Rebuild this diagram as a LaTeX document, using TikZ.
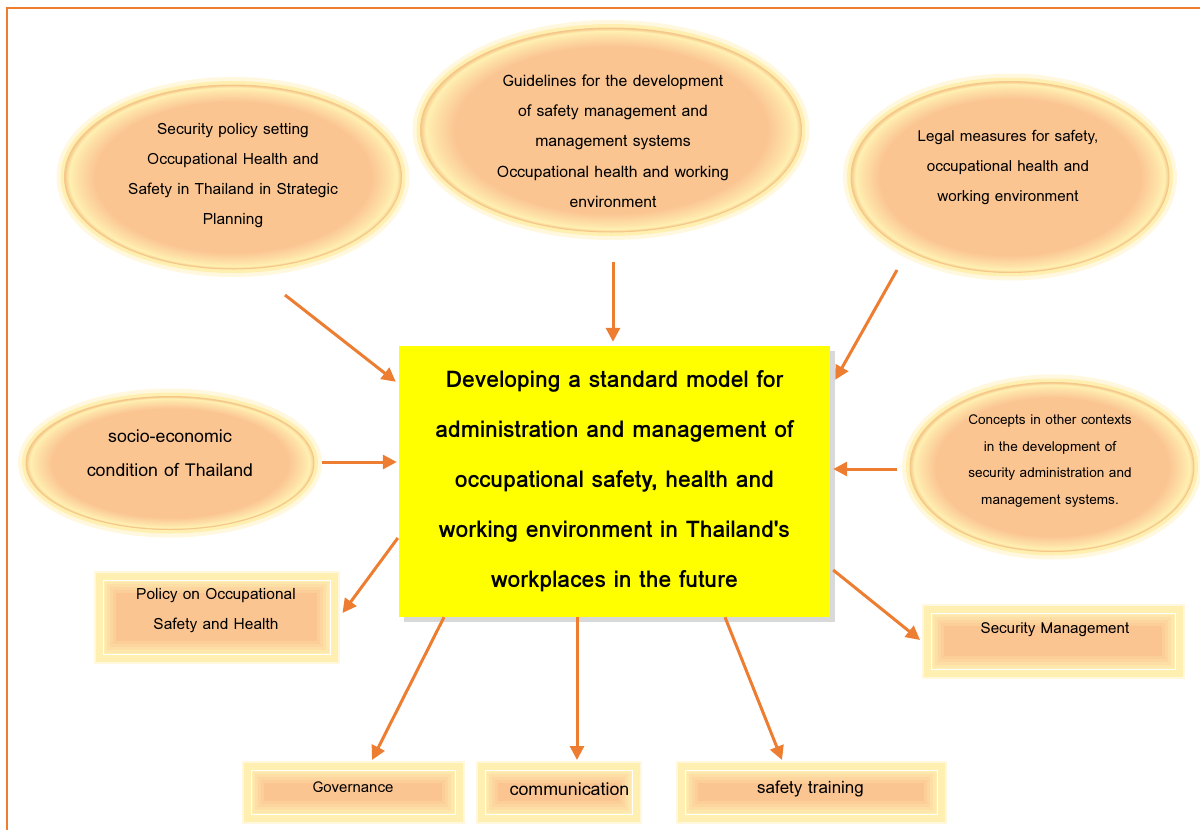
\documentclass[tikz,border=0pt]{standalone}
\usepackage{fontspec}
\usetikzlibrary{shapes.geometric,arrows.meta,shadows,calc}
\newfontfamily\lomafont{Loma}

\definecolor{peach}{HTML}{FBC592}
\definecolor{cream}{HTML}{FFF0B2}
\definecolor{halo}{HTML}{FFF8DE}
\definecolor{rim}{HTML}{F5C88A}
\definecolor{arrorange}{HTML}{ED7D31}
\definecolor{coreyellow}{HTML}{FFFF00}
\colorlet{creampeach}{cream!70!peach}
\colorlet{bevA}{cream!20!peach}
\colorlet{bevB}{cream!40!peach}
\colorlet{bevC}{cream!60!peach}
\colorlet{bevD}{cream!80!peach}
\colorlet{bevE}{cream!95!peach}

\pgfdeclareradialshading{bubglow}{\pgfpoint{0bp}{0bp}}{color(0bp)=(peach); color(20.5bp)=(peach); color(23.3bp)=(creampeach); color(24.3bp)=(cream); color(25bp)=(rim); color(50bp)=(rim)}

\tikzset{
  bubble/.style={ellipse, shading=bubglow, draw=rim, line width=1pt,
    preaction={draw=halo, line width=16pt}, preaction={draw=cream, line width=8pt}},
  tag/.style={rectangle, fill=peach, draw=white, line width=0.8pt,
    preaction={draw=halo, line width=19pt}, preaction={draw=cream, line width=15pt},
    path picture={
      \draw[bevA, line width=26pt] (path picture bounding box.south west) rectangle (path picture bounding box.north east);
      \draw[bevB, line width=20pt] (path picture bounding box.south west) rectangle (path picture bounding box.north east);
      \draw[bevC, line width=14pt] (path picture bounding box.south west) rectangle (path picture bounding box.north east);
      \draw[bevD, line width=8pt] (path picture bounding box.south west) rectangle (path picture bounding box.north east);
      \draw[bevE, line width=3pt] (path picture bounding box.south west) rectangle (path picture bounding box.north east);
    }},
  bubtxt/.style={align=center, inner sep=0pt, font=\lomafont\fontsize{15.5}{30}\selectfont},
  arr/.style={draw=arrorange, line width=3pt, -{Triangle[length=14pt,width=14pt]}}
}

\begin{document}
\begin{tikzpicture}[x=1pt,y=1pt,yscale=-1]
\useasboundingbox (0,0) rectangle (1200,830);

% page frame
\draw[arrorange, line width=2.8pt] (7,830) -- (7,8) -- (1200,8);

% outer ideas
\node[bubble, minimum width=337, minimum height=184] (e1) at (233,177) {};
\node[bubble, minimum width=381, minimum height=204] (e2) at (611,130) {};
\node[bubble, minimum width=318, minimum height=191] (e3) at (1010,177) {};
\node[bubble, minimum width=288, minimum height=133] (e4) at (170,463) {};
\node[bubble, minimum width=284, minimum height=169] (e5) at (1052,467) {};

\node[bubtxt] (t1) at (233,176) {Security policy setting\\Occupational Health and\\Safety in Thailand in Strategic\\Planning};
\node[bubtxt, font=\lomafont\fontsize{15.8}{30.3}\selectfont] (t2) at (613,141) {Guidelines for the development\\of safety management and\\management systems\\Occupational health and working\\environment};
\node[bubtxt, font=\lomafont\fontsize{15.2}{30}\selectfont] (t3) at (1008,167) {Legal measures for safety,\\occupational health and\\working environment};
\node[bubtxt, font=\lomafont\fontsize{17.8}{34}\selectfont] (t4) at (170,453) {socio-economic\\condition of Thailand};
\node[bubtxt, font=\lomafont\fontsize{13.6}{26.5}\selectfont] (t5) at (1050,461) {Concepts in other contexts\\in the development of\\security administration and\\management systems.};

% centre
\node[rectangle, fill=coreyellow, minimum width=431, minimum height=271, align=center,
  drop shadow={opacity=0.3, shadow xshift=5pt, shadow yshift=-5pt},
  font=\lomafont\bfseries\fontsize{23}{50}\selectfont] (core) at (614.5,481.5)
  {Developing a standard model for\\administration and management of\\occupational safety, health and\\working environment in Thailand's\\workplaces in the future};

% outcomes
\node[tag, minimum width=204, minimum height=44] (gov) at (353,792) {};
\node[tag, minimum width=227, minimum height=74] (pol) at (216.5,617) {};
\node[tag, minimum width=244, minimum height=56] (sec) at (1053,641) {};
\node[tag, minimum width=147, minimum height=44] (com) at (558.5,792) {};
\node[tag, minimum width=252, minimum height=44] (saf) at (811,792) {};

\node[bubtxt] (tpol) at (216,611) {Policy on Occupational\\Safety and Health};
\node[bubtxt, font=\lomafont\fontsize{15.2}{30}\selectfont] (tsec) at (1055,630) {Security Management};
\node[bubtxt, font=\lomafont\fontsize{15}{30}\selectfont] (tgov) at (353,787) {Governance};
\node[bubtxt, font=\lomafont\fontsize{17.8}{30}\selectfont] (tcom) at (569.5,789) {communication};
\node[bubtxt, font=\lomafont\fontsize{17}{30}\selectfont] (tsaf) at (810.5,789) {safety training};

% arrows in
\draw[arr] ($(e1)+(52,118)$) -- ($(core.north west)+(-3,36)$);
\draw[arr] ($(e2)+(2,132)$) -- ($(core.north)+(-1.5,-4)$);
\draw[arr] ($(e3)+(-113,93)$) -- ($(core.north east)+(5,34)$);
\draw[arr] ($(e4)+(152,-1)$) -- ($(core.west)+(-2,-19.5)$);
\draw[arr] ($(e5)+(-155,2)$) -- ($(core.east)+(3,-12.5)$);
% arrows out
\draw[arr] ($(core.west)+(-1,56.5)$) -- ($(pol)+(126,-4)$);
\draw[arr] ($(core.south)+(-170.5,0)$) -- ($(gov)+(19,-32)$);
\draw[arr] ($(core.south)+(-37.5,0)$) -- ($(com)+(18.5,-32)$);
\draw[arr] ($(core.south)+(110.5,0)$) -- ($(saf)+(-29,-32)$);
\draw[arr] ($(core.east)+(3,88.5)$) -- ($(sec)+(-133,-1)$);
\end{tikzpicture}
\end{document}
